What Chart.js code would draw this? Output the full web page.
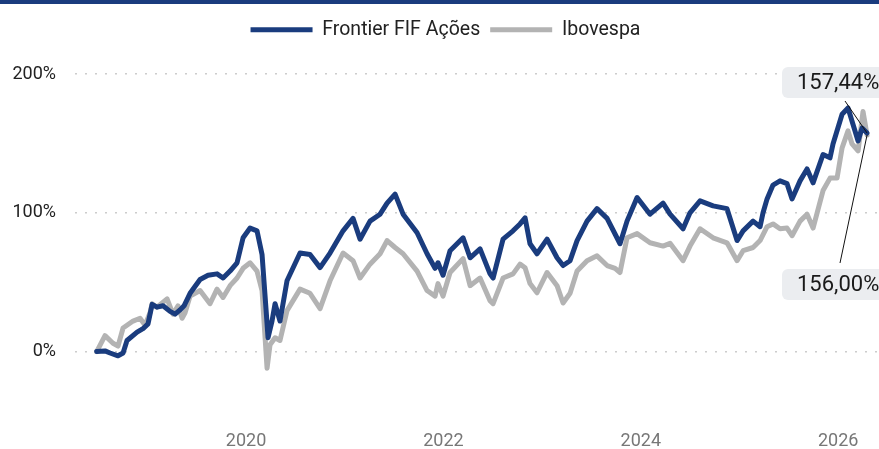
<!DOCTYPE html>
<html>
<head>
<meta charset="utf-8">
<script src="https://cdn.jsdelivr.net/npm/chart.js@4.4.1/dist/chart.umd.min.js"></script>
<style>
  html, body { margin: 0; padding: 0; background: #fff; }
  #wrap { position: relative; width: 879px; height: 449px; overflow: hidden; }
  #topbar { position: absolute; left: 0; top: 0; width: 879px; height: 4px; background: #1a3c7e; }
  #chart { position: absolute; left: 0; top: 0; }
</style>
</head>
<body>
<div id="wrap">
  <canvas id="chart" width="879" height="449"></canvas>
  <div id="topbar"></div>
</div>
<script>
// series labels
const seriesNames = ['Frontier FIF Ações', 'Ibovespa'];

// Frontier FIF Ações, cumulative return (%) by decimal year
const fundYears = [2018.487, 2018.571, 2018.622, 2018.703, 2018.754, 2018.794, 2018.896, 2018.956, 2019.007, 2019.048,
    2019.098, 2019.159, 2019.230, 2019.281, 2019.331, 2019.372, 2019.433, 2019.534, 2019.615, 2019.706,
    2019.767, 2019.838, 2019.909, 2019.970, 2020.041, 2020.111, 2020.162, 2020.203, 2020.223, 2020.263,
    2020.294, 2020.344, 2020.415, 2020.547, 2020.648, 2020.750, 2020.851, 2020.983, 2021.084, 2021.155,
    2021.256, 2021.358, 2021.429, 2021.510, 2021.591, 2021.733, 2021.834, 2021.915, 2021.945, 2021.996,
    2022.067, 2022.199, 2022.270, 2022.371, 2022.472, 2022.503, 2022.604, 2022.705, 2022.776, 2022.827,
    2022.877, 2022.948, 2023.050, 2023.151, 2023.212, 2023.283, 2023.354, 2023.455, 2023.556, 2023.658,
    2023.789, 2023.860, 2023.962, 2024.093, 2024.225, 2024.296, 2024.428, 2024.498, 2024.600, 2024.732,
    2024.873, 2024.975, 2025.036, 2025.137, 2025.208, 2025.238, 2025.279, 2025.339, 2025.410, 2025.481,
    2025.532, 2025.613, 2025.684, 2025.745, 2025.846, 2025.917, 2025.947, 2026.039, 2026.099, 2026.140,
    2026.201, 2026.241, 2026.292];
const fundValues = [0, 0.5, -1, -3, -1, 8, 14, 16.5, 20, 34,
    32, 33, 29, 27, 30, 33, 42, 52, 55, 56,
    53, 58, 64, 82, 89, 87, 70, 30, 10, 22,
    34.5, 22, 51, 71, 70, 60.5, 71, 87, 96, 81,
    94, 99, 107, 113.5, 99, 85.6, 70.5, 60, 64, 55,
    72.7, 82, 67.6, 74, 56, 53, 81, 87, 92, 96.4,
    77.7, 70.5, 81, 67.6, 62, 65.5, 80, 94, 103, 96,
    77.7, 94, 111, 99, 107, 99, 88.5, 100, 108.6, 105,
    103, 80, 87, 94, 90, 100, 110, 120, 123, 121,
    110, 123, 131.6, 121.6, 142, 139.6, 149.6, 171, 175.5, 166,
    151.8, 161, 157.44];

// Ibovespa, cumulative return (%) by decimal year
const iboYears = [2018.487, 2018.571, 2018.652, 2018.703, 2018.754, 2018.855, 2018.926, 2018.977, 2019.027, 2019.048,
    2019.098, 2019.200, 2019.260, 2019.311, 2019.352, 2019.382, 2019.433, 2019.534, 2019.635, 2019.706,
    2019.767, 2019.838, 2019.909, 2019.970, 2020.041, 2020.111, 2020.162, 2020.193, 2020.213, 2020.243,
    2020.294, 2020.344, 2020.415, 2020.547, 2020.648, 2020.750, 2020.851, 2020.983, 2021.084, 2021.155,
    2021.256, 2021.358, 2021.429, 2021.510, 2021.591, 2021.733, 2021.834, 2021.915, 2021.945, 2021.996,
    2022.067, 2022.199, 2022.270, 2022.371, 2022.472, 2022.503, 2022.604, 2022.705, 2022.776, 2022.827,
    2022.877, 2022.948, 2023.050, 2023.151, 2023.212, 2023.283, 2023.354, 2023.455, 2023.556, 2023.658,
    2023.739, 2023.789, 2023.860, 2023.962, 2024.093, 2024.225, 2024.296, 2024.428, 2024.498, 2024.600,
    2024.732, 2024.873, 2024.975, 2025.036, 2025.137, 2025.208, 2025.279, 2025.339, 2025.410, 2025.481,
    2025.532, 2025.613, 2025.684, 2025.745, 2025.846, 2025.917, 2025.988, 2026.039, 2026.099, 2026.140,
    2026.201, 2026.251, 2026.292];
const iboValues = [0, 11.5, 6, 4, 17, 22, 24, 19, 28, 34.5,
    32, 38, 27, 33, 24, 28, 40, 44, 34.5, 45,
    39, 47.5, 53, 60, 64, 58, 44, 10, -12, 5,
    10, 8, 29.5, 45, 42, 31, 51, 71, 65.5, 53,
    63, 70.5, 80, 75, 70.5, 58, 44, 40, 49, 40,
    57, 67, 47.5, 53, 36.7, 34.5, 53, 56, 63, 60.4,
    49, 42.4, 57, 47.5, 35, 42, 58, 65.5, 69, 62,
    60, 57, 82, 85, 78.4, 76, 78, 65.5, 76, 88.5,
    82, 78.4, 65.5, 72.7, 75, 80, 90, 92, 88.5, 89,
    83.5, 94, 99, 89, 116, 125, 125, 146.8, 159, 149.6,
    144.6, 173, 156];

// axis ticks
const xTickYears = [2020, 2022, 2024, 2026];
const yTickValues = [0, 100, 200];

const colors = ['#1a3c7e', '#b3b3b3'];
const fontFamily = 'Roboto, "Noto Sans", sans-serif';

function toPoints(xs, ys) {
    return xs.map((x, i) => ({ x: x, y: ys[i] }));
}

function fmtPct(v) {
    return v.toFixed(2).replace('.', ',') + '%';
}

// end-value callouts
const endLabels = {
    id: 'endLabels',
    afterDatasetsDraw(chart) {
        const ctx = chart.ctx;
        const boxes = [
            { ds: 0, top: 67, from: { x: 845, y: 101 } },
            { ds: 1, top: 269, from: { x: 840, y: 263 } }
        ];
        ctx.save();
        boxes.forEach(b => {
            const pts = chart.getDatasetMeta(b.ds).data;
            const last = pts[pts.length - 1];
            const values = chart.data.datasets[b.ds].data;
            const v = values[values.length - 1].y;

            ctx.beginPath();
            ctx.strokeStyle = '#111';
            ctx.lineWidth = 1;
            ctx.moveTo(b.from.x, b.from.y);
            ctx.lineTo(last.x, last.y);
            ctx.stroke();

            ctx.fillStyle = '#ebedf0';
            ctx.beginPath();
            ctx.roundRect(782, b.top, 110, 31, 6);
            ctx.fill();

            ctx.fillStyle = '#1a1a1a';
            ctx.font = '22px ' + fontFamily;
            ctx.textAlign = 'left';
            ctx.textBaseline = 'middle';
            ctx.fillText(fmtPct(v), 797, b.top + 16);
        });
        ctx.restore();
    }
};

// extra space under the legend
const legendSpace = {
    id: 'legendSpace',
    beforeInit(chart) {
        const origFit = chart.legend.fit;
        chart.legend.fit = function () {
            origFit.call(this);
            this.height += 24.5;
        };
    }
};

new Chart(document.getElementById('chart'), {
    type: 'line',
    data: {
        datasets: [
            {
                label: seriesNames[0],
                data: toPoints(fundYears, fundValues),
                borderColor: colors[0],
                backgroundColor: colors[0],
                borderWidth: 5,
                borderCapStyle: 'round',
                borderJoinStyle: 'round',
                pointRadius: 0,
                tension: 0
            },
            {
                label: seriesNames[1],
                data: toPoints(iboYears, iboValues),
                borderColor: colors[1],
                backgroundColor: colors[1],
                borderWidth: 5,
                borderCapStyle: 'round',
                borderJoinStyle: 'round',
                pointRadius: 0,
                tension: 0
            }
        ]
    },
    options: {
        responsive: false,
        animation: false,
        events: [],
        layout: { padding: { top: 10, left: 12, right: 0, bottom: 0 } },
        plugins: {
            legend: {
                display: true,
                position: 'top',
                labels: {
                    usePointStyle: true,
                    pointStyle: 'line',
                    pointStyleWidth: 62,
                    color: '#222',
                    padding: 10,
                    font: { family: fontFamily, size: 19.5 }
                }
            },
            tooltip: { enabled: false }
        },
        scales: {
            x: {
                type: 'linear',
                min: 2018.267,
                max: 2026.413,
                afterBuildTicks: (axis) => { axis.ticks = xTickYears.map(v => ({ value: v })); },
                afterFit: (axis) => { axis.height = 28; },
                grid: { display: false, drawTicks: false },
                border: { display: false },
                ticks: {
                    color: '#777',
                    padding: 10,
                    maxRotation: 0,
                    font: { family: fontFamily, size: 18 },
                    callback: (v) => String(v)
                }
            },
            y: {
                min: -50,
                max: 200,
                afterBuildTicks: (axis) => { axis.ticks = yTickValues.map(v => ({ value: v })); },
                afterFit: (axis) => {
                    axis.width = 63;
                    axis.paddingTop = 0;
                    axis.paddingBottom = 0;
                },
                grid: { color: '#cccccc', lineWidth: 1.5, drawTicks: false },
                border: { display: false, dash: [2, 8] },
                ticks: {
                    color: '#222',
                    padding: 19,
                    font: { family: fontFamily, size: 18 },
                    callback: (v) => v + '%'
                }
            }
        }
    },
    plugins: [endLabels, legendSpace]
});
</script>
</body>
</html>
